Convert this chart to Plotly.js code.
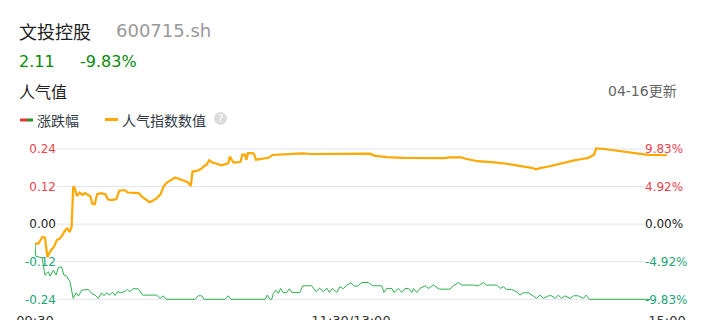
<!DOCTYPE html>
<html>
<head>
<meta charset="utf-8">
<script src="https://cdn.plot.ly/plotly-3.0.1.min.js"></script>
<style>html,body{margin:0;padding:0;background:#fff;}#chart{width:707px;height:320px;}</style>
</head>
<body>
<div id="chart"></div>
<script>
// ---- data (x = minutes since 09:30 on a trading-minute scale 0..240) ----
const popMinutes = [0,1.3,2.8,3.8,4.7,6.0,7.2,8.3,9.4,10.4,11.5,12.3,13.1,13.9,14.5,15.1,15.9,17.0,18.0,18.9,20.2,21.1,21.7,22.7,23.6,25.2,26.8,27.7,29.3,30.9,32.0,34.0,35.3,37.5,39.4,40.6,42.2,43.5,44.7,46.3,47.7,48.8,50.1,51.7,53.2,54.8,56.4,58.0,59.2,59.8,61.4,63.0,64.3,65.2,66.1,67.4,69.0,70.6,72.1,73.4,74.0,75.3,76.9,78.1,78.7,79.7,80.3,80.9,82.4,83.1,83.9,86.3,88.7,90.2,92.6,95.7,98.9,101.3,105.2,111.5,117.8,120.9,124.1,127.2,128.8,133.5,139.8,147.7,155.6,157.2,161.9,163.5,168.2,174.5,179.2,183.9,188.7,190.2,191.8,195.0,198.1,201.3,204.4,207.6,209.9,212.3,213.1,216.2,221.7,228.0,232.8,240];
const popValues = [-0.062,-0.062,-0.041,-0.043,-0.105,-0.084,-0.073,-0.051,-0.046,-0.035,-0.019,-0.014,-0.025,-0.009,0.120,0.115,0.090,0.101,0.093,0.099,0.093,0.088,0.066,0.064,0.096,0.099,0.095,0.079,0.077,0.080,0.107,0.109,0.101,0.101,0.099,0.088,0.077,0.070,0.075,0.083,0.096,0.120,0.133,0.141,0.149,0.144,0.139,0.134,0.122,0.168,0.170,0.176,0.186,0.190,0.204,0.197,0.193,0.188,0.191,0.195,0.216,0.197,0.197,0.200,0.222,0.223,0.206,0.227,0.227,0.225,0.206,0.208,0.212,0.221,0.222,0.223,0.223,0.226,0.224,0.224,0.223,0.224,0.225,0.225,0.219,0.214,0.212,0.211,0.211,0.213,0.213,0.209,0.201,0.197,0.193,0.186,0.180,0.175,0.179,0.184,0.191,0.197,0.203,0.208,0.211,0.222,0.242,0.240,0.234,0.227,0.221,0.220];

const chgMinutes = [0,0.3,2.7,3.2,3.8,5.1,5.7,7.0,8.0,8.9,10.1,11.0,12.0,13.3,14.5,15.6,16.5,17.7,20.3,21.5,22.8,24.0,25.3,26.2,27.2,28.2,29.5,30.4,31.3,32.5,33.8,35.1,36.1,37.1,39.2,40.9,46.2,47.5,48.7,49.8,60.8,62.0,63.3,64.2,72.2,73.4,74.4,87.4,88.2,89.3,89.9,90.5,91.5,92.4,93.3,94.3,95.6,96.6,97.5,100.6,101.7,105.1,106.7,108.0,109.5,110.8,111.8,112.9,114.6,115.8,117.1,118.4,120.0,121.2,122.4,124.1,126.6,128.2,131.7,132.5,133.6,135.5,136.3,138.0,139.3,140.5,141.8,143.1,143.7,145.0,146.2,148.1,149.4,151.3,153.6,157.6,158.9,160.8,162.1,166.5,168.4,170.3,171.5,175.4,176.6,177.9,179.1,181.0,182.9,184.2,185.4,187.4,188.6,190.5,191.8,193.0,195.0,196.2,197.5,198.7,200.0,201.3,203.2,204.5,206.3,208.2,209.3,210.5,233.6];
const chgValues = [-2.55,-4.2,-4.4,-5.58,-6.67,-6.23,-6.80,-6.01,-6.67,-5.66,-5.58,-6.67,-6.80,-7.54,-9.71,-8.98,-9.41,-8.63,-8.54,-9.06,-9.28,-9.71,-8.98,-9.37,-8.98,-9.28,-8.93,-9.32,-8.84,-8.98,-8.84,-8.54,-8.84,-8.45,-8.45,-9.28,-9.28,-9.71,-9.37,-9.83,-9.83,-9.37,-9.37,-9.83,-9.83,-9.37,-9.83,-9.83,-9.28,-9.83,-9.83,-9.06,-8.63,-9.06,-8.41,-8.98,-8.93,-8.45,-8.93,-8.93,-8.06,-8.06,-8.84,-8.36,-8.84,-8.36,-8.93,-8.41,-8.93,-8.19,-8.45,-7.97,-7.67,-8.10,-8.10,-7.63,-7.63,-8.06,-8.06,-8.93,-8.41,-8.41,-8.93,-8.41,-8.93,-8.41,-8.41,-8.93,-8.41,-8.93,-8.41,-8.06,-8.41,-7.97,-8.50,-8.50,-8.06,-7.63,-7.97,-7.97,-8.06,-7.63,-7.97,-7.97,-8.41,-8.19,-8.54,-8.54,-8.84,-9.28,-8.98,-8.98,-9.28,-9.71,-9.28,-9.71,-9.37,-9.37,-9.71,-9.28,-9.71,-9.37,-9.71,-9.37,-9.37,-9.71,-9.28,-9.83,-9.83];

const xTickVals = [0, 120, 240];
const xTickText = ['09:30', '11:30/13:00', '15:00'];
const leftTickVals = [0.24, 0.12, 0, -0.12, -0.24];
const leftTickText = ['0.24', '0.12', '0.00', '-0.12', '-0.24'];
const rightTickVals = [9.83, 4.92, 0, -4.92, -9.83];
const rightTickText = ['9.83%', '4.92%', '0.00%', '-4.92%', '-9.83%'];

const stockName = '文投控股';
const stockCode = '600715.sh';
const lastPrice = '2.11';
const lastChange = '-9.83%';
const sectionTitle = '人气值';
const updateText = '04-16更新';
const seriesNames = ['涨跌幅', '人气指数数值'];

// ---- styling / layout ----
const W = 707, H = 320;
const M = {l: 35, r: 40, t: 144, b: 19};
const PW = W - M.l - M.r, PH = H - M.t - M.b;
const px = x => (x - M.l) / PW;
const py = y => (H - M.b - y) / PH;

const RED = '#f0424b', GREEN = '#1fa57a', BLACK = '#222';
const colorFor = v => v > 0 ? RED : (v < 0 ? GREEN : BLACK);
const colorize = (vals, texts) => texts.map((t, i) => '<span style="fill:' + colorFor(vals[i]) + '">' + t + '</span>');

const leftRange = [-0.2454, 0.256];
const ratio = 9.83 / 0.24;
const rightRange = [leftRange[0] * ratio, leftRange[1] * ratio];

const FONT = 'DejaVu Sans, Noto Sans CJK SC, sans-serif';
const CJK = 'Noto Sans CJK SC, DejaVu Sans, sans-serif';

const traces = [
  {x: chgMinutes, y: chgValues, yaxis: 'y2', type: 'scatter', mode: 'lines', name: seriesNames[0],
   line: {color: '#2fb14f', width: 1}, hoverinfo: 'skip'},
  {x: popMinutes, y: popValues, yaxis: 'y', type: 'scatter', mode: 'lines', name: seriesNames[1],
   line: {color: '#ffa800', width: 2.2}, hoverinfo: 'skip'}
];

const shapes = leftTickVals.map(v => ({
  type: 'line', xref: 'paper', yref: 'y', x0: px(57), x1: px(645), y0: v, y1: v,
  line: {color: '#e1e5ef', width: 1}, layer: 'below'
}));
// legend icons
shapes.push({type: 'line', xref: 'paper', yref: 'paper', x0: px(20), x1: px(27), y0: py(120), y1: py(120), line: {color: '#e53935', width: 3}});
shapes.push({type: 'line', xref: 'paper', yref: 'paper', x0: px(27), x1: px(33), y0: py(120), y1: py(120), line: {color: '#2e8b2e', width: 3}});
shapes.push({type: 'line', xref: 'paper', yref: 'paper', x0: px(105), x1: px(118), y0: py(119.5), y1: py(119.5), line: {color: '#ffa800', width: 3}});
shapes.push({type: 'circle', xref: 'paper', yref: 'paper', x0: px(214), x1: px(227), y0: py(125), y1: py(112), fillcolor: '#dcdcdc', line: {width: 0}});

const PAD = 3; // annotation inner padding compensation
const ann = (x, y, text, size, color, anchor, family) => {
  anchor = anchor || 'left';
  const dx = anchor === 'left' ? -PAD : (anchor === 'right' ? PAD : 0);
  return {
    xref: 'paper', yref: 'paper', x: px(x + dx), y: py(y), text: text, showarrow: false,
    xanchor: anchor, yanchor: 'middle', font: {family: family || FONT, size: size, color: color}
  };
};

const annotations = [
  ann(20, 31, stockName, 18, '#222', 'left', CJK),
  ann(117, 31, stockCode, 18, '#999'),
  ann(20, 62, lastPrice, 16, '#0a8a0a'),
  ann(81, 62, lastChange, 16, '#0a8a0a'),
  ann(20, 91, sectionTitle, 16, '#222', 'left', CJK),
  ann(676, 91, updateText, 14, '#666', 'right'),
  ann(38, 120, seriesNames[0], 14, '#333a45', 'left', CJK),
  ann(123, 120, seriesNames[1], 14, '#333a45', 'left', CJK),
  ann(220.5, 118.5, '?', 10, '#ffffff', 'center')
];

const layout = {
  width: W, height: H, margin: M, showlegend: false,
  paper_bgcolor: '#fff', plot_bgcolor: '#fff',
  font: {family: FONT},
  xaxis: {range: [0, 240], tickvals: xTickVals, ticktext: xTickText, showgrid: false, zeroline: false,
          showline: false, ticks: '', tickfont: {size: 13, color: '#333'}, ticklabelstandoff: 10, fixedrange: true},
  yaxis: {range: leftRange, tickvals: leftTickVals, ticktext: colorize(leftTickVals, leftTickText),
          showgrid: false, zeroline: false, showline: false, ticks: '', anchor: 'free', position: px(56),
          side: 'left', tickfont: {size: 12, family: FONT}, fixedrange: true},
  yaxis2: {range: rightRange, tickvals: rightTickVals, ticktext: colorize(rightTickVals, rightTickText),
           overlaying: 'y', side: 'right', anchor: 'free', position: px(644),
           showgrid: false, zeroline: false, showline: false, ticks: '', tickfont: {size: 12, family: FONT}, fixedrange: true},
  shapes: shapes,
  annotations: annotations
};

Plotly.newPlot('chart', traces, layout, {displayModeBar: false, staticPlot: true});
</script>
</body>
</html>
